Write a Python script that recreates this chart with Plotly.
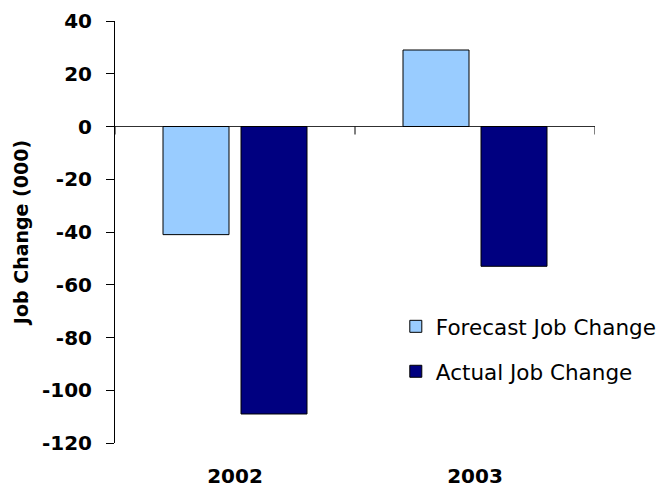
import plotly.graph_objects as go

# Job change by year, thousands of jobs
years = ["2002", "2003"]
forecast_change = [-41, 29]
actual_change = [-109, -53]

y_ticks = [-120, -100, -80, -60, -40, -20, 0, 20, 40]

FONT = "DejaVu Sans"

fig = go.Figure()
fig.add_trace(go.Bar(
    name="Forecast Job Change", x=years, y=forecast_change,
    width=0.275, offset=-0.3,
    marker=dict(color="#99CCFF", line=dict(color="#000000", width=1)),
    legendgroup="forecast",
))
fig.add_trace(go.Bar(
    name="Actual Job Change", x=years, y=actual_change,
    width=0.275, offset=0.025,
    marker=dict(color="#000080", line=dict(color="#000000", width=1)),
    legendgroup="actual",
))

# Category boundary tick marks hanging below the zero line
boundaries = [i - 0.5 for i in range(len(years) + 1)]
for b in boundaries:
    fig.add_shape(type="line", xref="x", yref="y", ysizemode="pixel",
                  yanchor=0, x0=b, x1=b, y0=0, y1=-8,
                  line=dict(color="#000000", width=1))

fig.update_layout(
    width=660, height=489,
    margin=dict(l=115, r=65, t=21, b=46, autoexpand=False),
    paper_bgcolor="white", plot_bgcolor="white",
    showlegend=True,
    legend=dict(x=0.585, y=0.325, xanchor="left", yanchor="top",
                font=dict(family=FONT, size=21.5, color="#000000"),
                bgcolor="rgba(0,0,0,0)", tracegroupgap=14,
                traceorder="grouped"),
    xaxis=dict(type="category", range=[-0.5, 1.5], showline=False,
               showgrid=False, zeroline=False, ticks="",
               automargin=False, ticklabelstandoff=19,
               tickfont=dict(family=FONT, size=20, color="#000000",
                             weight="bold")),
    yaxis=dict(range=[-120, 40], tickvals=y_ticks,
               ticktext=[str(v) for v in y_ticks],
               automargin=False,
               showline=True, linecolor="#000000", linewidth=1,
               ticks="outside", ticklen=8, tickcolor="#000000",
               ticklabelstandoff=10,
               showgrid=False, zeroline=True, zerolinecolor="#303030",
               zerolinewidth=1,
               tickfont=dict(family=FONT, size=20, color="#000000",
                             weight="bold"),
               title=dict(text="Job Change (000)", standoff=8,
                          font=dict(family=FONT, size=19, color="#000000",
                                    weight="bold"))),
)

fig.write_html("out.html")
